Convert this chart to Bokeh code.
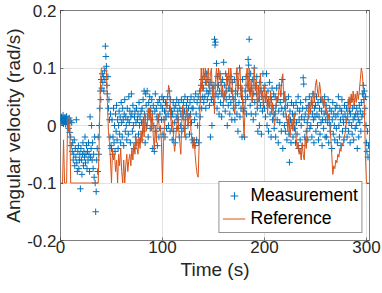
from bokeh.plotting import figure
from bokeh.models import (Range1d, FixedTicker, CustomJSTickFormatter, Legend,
                          LegendItem, LinearAxis)
from bokeh.embed import file_html
from bokeh.resources import INLINE

# ---- data ----
MEAS_DT = 0.5   # s between measurement samples
REF_DT = 1.0    # s between reference samples

measurement = [
    # t 0 - 9.5
    0.012, 0.008, 0.015, 0.005, 0.010, 0.018, 0.003, 0.012, 0.007, 0.014,
    0.002, 0.009, 0.016, 0.004, 0.011, 0.006, -0.005, 0.013, -0.012, 0.008,
    # t 10 - 19.5
    -0.02, -0.035, 0.005, -0.045, -0.03, -0.06, -0.05, -0.025, -0.07, -0.04,
    -0.055, 0.01, -0.065, -0.08, -0.045, -0.035, -0.075, -0.06, -0.05, -0.11,
    # t 20 - 29.5
    -0.04, -0.06, -0.085, -0.05, -0.03, -0.07, -0.045, -0.055, -0.02, -0.065,
    -0.05, -0.035, -0.075, -0.045, -0.06, -0.03, -0.05, -0.08, 0.015, -0.055,
    # t 30 - 39.5
    -0.04, 0.0, -0.06, -0.03, -0.075, -0.05, -0.09, -0.02, -0.1, -0.15,
    -0.115, -0.06, -0.04, -0.08, -0.02, -0.05, 0.0, 0.03, 0.06, 0.045,
    # t 40 - 49.5
    0.08, 0.065, 0.09, 0.075, 0.085, 0.06, 0.095, 0.08, 0.138, 0.12,
    0.103, 0.07, 0.055, 0.085, 0.03, 0.045, 0.01, -0.02, 0.02, -0.035,
    # t 50 - 59.5
    -0.04, 0.01, -0.05, -0.02, 0.03, -0.03, 0.0, -0.045, 0.02, -0.01,
    0.035, -0.025, 0.01, -0.04, 0.0, 0.025, -0.015, 0.015, -0.03, 0.04,
    # t 60 - 69.5
    0.005, -0.02, 0.03, 0.01, -0.035, 0.02, 0.045, -0.01, 0.015, 0.0,
    -0.025, 0.03, 0.01, -0.015, 0.05, 0.005, 0.025, -0.03, 0.015, 0.055,
    # t 70 - 79.5
    0.02, -0.01, 0.035, 0.0, -0.04, 0.015, 0.025, -0.02, 0.005, 0.03,
    -0.03, 0.01, 0.02, -0.015, 0.04, 0.0, 0.015, -0.025, 0.025, 0.005,
    # t 80 - 89.5
    0.03, -0.01, 0.045, 0.01, 0.06, 0.02, -0.03, 0.055, 0.035, 0.0,
    0.06, 0.015, -0.02, 0.04, 0.025, 0.05, -0.005, 0.03, 0.01, 0.045,
    # t 90 - 99.5
    0.02, -0.04, 0.035, 0.0, -0.045, 0.025, 0.055, -0.01, 0.03, 0.015,
    -0.035, 0.04, 0.01, -0.02, 0.045, 0.02, -0.005, 0.035, 0.01, 0.05,
    # t 100 - 109.5
    0.03, -0.015, 0.045, 0.01, 0.025, -0.02, 0.04, 0.015, -0.005, 0.035,
    0.05, 0.02, 0.0, 0.06, 0.03, -0.01, 0.045, 0.015, 0.025, -0.025,
    # t 110 - 119.5
    0.02, 0.04, -0.01, 0.03, 0.005, -0.03, 0.035, 0.015, 0.045, -0.005,
    0.025, 0.01, 0.04, -0.02, 0.03, 0.0, 0.02, 0.045, -0.01, 0.03,
    # t 120 - 129.5
    0.015, 0.04, -0.005, 0.025, 0.05, 0.01, -0.02, 0.035, 0.02, 0.045,
    0.0, 0.03, 0.015, -0.015, 0.04, 0.02, 0.05, 0.005, 0.03, -0.025,
    # t 130 - 139.5
    0.03, -0.03, 0.045, 0.01, -0.035, 0.055, 0.02, -0.025, 0.04, 0.0,
    0.05, -0.03, 0.03, 0.06, 0.015, 0.045, 0.07, 0.03, 0.08, 0.05,
    # t 140 - 149.5
    0.065, 0.04, 0.085, 0.05, 0.075, 0.03, 0.09, 0.06, 0.045, 0.08,
    0.055, 0.07, 0.035, 0.06, -0.02, 0.075, 0.045, 0.0, 0.065, 0.05,
    # t 150 - 159.5
    0.04, 0.07, 0.15, 0.14, 0.145, 0.055, 0.108, 0.03, 0.085, 0.05,
    0.07, 0.02, 0.06, 0.09, 0.04, 0.075, 0.015, 0.055, 0.08, 0.035,
    # t 160 - 169.5
    0.11, 0.05, 0.07, 0.025, 0.09, 0.045, 0.06, 0.0, 0.08, 0.035,
    0.065, 0.05, 0.02, 0.085, 0.04, 0.06, 0.01, 0.075, 0.05, 0.03,
    # t 170 - 179.5
    0.045, 0.08, 0.01, 0.06, 0.035, 0.09, 0.02, 0.055, -0.01, 0.07,
    0.04, 0.1, 0.015, 0.065, 0.03, 0.05, -0.02, 0.08, 0.04, 0.025,
    # t 180 - 189.5
    0.03, -0.02, 0.06, 0.045, 0.085, 0.02, 0.07, 0.05, 0.115, 0.105,
    0.15, 0.06, 0.035, 0.09, 0.02, 0.065, 0.045, 0.08, 0.01, 0.055,
    # t 190 - 199.5
    0.1, 0.04, 0.07, 0.02, 0.055, 0.085, 0.03, -0.01, 0.065, 0.045,
    0.0, 0.075, 0.035, 0.06, -0.015, 0.05, 0.025, 0.09, 0.04, 0.065,
    # t 200 - 209.5
    0.03, 0.07, 0.015, 0.05, 0.09, 0.0, 0.04, 0.06, -0.01, 0.035,
    0.075, 0.02, 0.05, -0.02, 0.045, 0.065, 0.01, 0.03, 0.055, -0.005,
    # t 210 - 219.5
    0.02, 0.05, -0.02, 0.035, 0.065, 0.01, 0.045, -0.03, 0.025, 0.07,
    0.005, 0.04, 0.055, -0.01, 0.03, 0.08, -0.04, 0.02, 0.045, 0.0,
    # t 220 - 229.5
    0.03, -0.01, 0.045, 0.015, -0.025, 0.035, 0.005, 0.05, -0.015, -0.064,
    0.025, 0.01, -0.03, 0.04, 0.0, 0.02, -0.02, 0.035, 0.01, -0.005,
    # t 230 - 239.5
    0.02, -0.03, 0.04, 0.005, -0.015, 0.03, 0.05, -0.04, 0.01, 0.025,
    -0.025, 0.04, 0.0, 0.015, -0.035, 0.03, 0.083, 0.072, 0.01, -0.02,
    # t 240 - 249.5
    0.02, 0.045, -0.01, 0.03, 0.005, -0.025, 0.035, 0.015, 0.05, -0.005,
    0.025, 0.0, 0.04, -0.02, 0.02, 0.055, 0.01, -0.03, 0.03, 0.015,
    # t 250 - 259.5
    0.035, -0.01, 0.05, 0.02, 0.0, 0.04, -0.025, 0.015, 0.03, -0.015,
    0.045, 0.005, 0.025, -0.035, 0.01, 0.04, -0.005, 0.02, 0.05, -0.02,
    # t 260 - 269.5
    0.01, 0.035, -0.02, 0.02, 0.005, 0.045, -0.03, 0.015, 0.03, -0.01,
    0.0, 0.025, -0.04, 0.01, 0.04, -0.015, 0.02, 0.0, -0.025, 0.03,
    # t 270 - 279.5
    0.015, -0.005, 0.035, -0.03, 0.02, 0.05, 0.0, -0.02, 0.03, 0.01,
    -0.035, 0.025, 0.045, -0.01, 0.015, 0.005, -0.025, 0.035, 0.02, -0.005,
    # t 280 - 289.5
    0.01, 0.03, -0.02, 0.015, 0.04, -0.01, 0.005, 0.025, -0.03, 0.02,
    0.045, 0.0, -0.015, 0.03, 0.01, -0.025, 0.035, 0.015, -0.005, 0.02,
    # t 290 - 299.5
    0.0, 0.03, -0.04, 0.02, 0.01, -0.02, 0.035, 0.005, 0.025, -0.01,
    0.04, 0.015, 0.055, 0.02, 0.07, 0.045, 0.06, 0.03, 0.05, 0.0,
    # t 300 - 302
    -0.03, -0.045, -0.01, -0.055, -0.035,
]

reference = [
    -0.1, -0.1, -0.1, -0.025, -0.1, -0.1, -0.1, 0.015, -0.01, 0.015,          # 0
    -0.1, -0.1, -0.1, -0.1, -0.1, -0.1, -0.1, -0.1, -0.1, -0.1,               # 10
    -0.1, -0.1, -0.1, -0.1, -0.1, -0.1, -0.1, -0.1, -0.1, -0.1,               # 20
    -0.1, -0.1, -0.1, -0.1, -0.1, -0.1, -0.1, -0.1, -0.02, 0.06,              # 30
    0.1, 0.1, 0.1, 0.1, 0.1, 0.095, 0.04, -0.01, -0.03, -0.06,                # 40
    -0.1, -0.04, -0.06, -0.05, -0.08, -0.06, -0.1, -0.05, -0.07, -0.04,       # 50
    -0.08, -0.1, -0.06, -0.1, -0.07, -0.05, -0.08, -0.06, -0.05, -0.07,       # 60
    -0.04, -0.06, -0.03, -0.05, -0.02, -0.04, -0.05, -0.02, -0.04, -0.01,     # 70
    -0.03, 0.01, -0.02, 0.02, -0.01, 0.0, 0.03, 0.01, 0.03, -0.01,            # 80
    0.02, -0.02, -0.04, 0.0, -0.03, 0.01, 0.02, -0.01, 0.0, -0.03,            # 90
    -0.1, -0.03, 0.0, 0.02, 0.04, 0.05, 0.07, 0.06, 0.02, -0.01,              # 100
    0.01, -0.03, -0.045, -0.02, 0.0, 0.02, -0.01, -0.03, -0.05, 0.01,         # 110
    0.035, 0.01, -0.02, 0.02, 0.03, 0.0, 0.015, 0.02, -0.01, -0.03,           # 120
    -0.04, -0.02, -0.05, -0.07, -0.085, -0.09, -0.03, 0.05, 0.1, 0.06,        # 130
    0.1, 0.08, 0.1, 0.07, 0.09, 0.1, 0.06, 0.09, 0.1, 0.05,                   # 140
    0.07, 0.02, 0.08, 0.1, 0.06, 0.1, 0.08, 0.09, 0.05, 0.07,                 # 150
    0.04, 0.06, 0.05, 0.09, 0.07, 0.1, 0.06, 0.1, 0.08, 0.05,                 # 160
    0.03, 0.02, 0.07, 0.1, 0.06, 0.09, 0.1, 0.05, 0.07, 0.02,                 # 170
    -0.02, 0.03, 0.08, 0.1, 0.06, 0.1, 0.05, 0.08, 0.04, 0.07,                # 180
    0.1, 0.06, 0.08, 0.03, 0.07, 0.04, 0.09, 0.05, 0.06, 0.03,                # 190
    0.07, 0.04, 0.06, 0.02, 0.05, 0.03, 0.06, 0.02, 0.04, 0.01,               # 200
    0.0, 0.03, 0.05, 0.04, 0.06, 0.07, 0.05, 0.08, 0.09, 0.04,                # 210
    0.06, 0.02, 0.01, -0.01, 0.02, -0.02, 0.0, 0.01, -0.01, 0.02,             # 220
    0.0, -0.02, -0.04, -0.03, -0.05, -0.04, -0.06, -0.03, -0.05, -0.06,       # 230
    -0.02, -0.04, 0.0, 0.02, 0.04, 0.02, 0.05, 0.03, 0.06, 0.04,              # 240
    0.07, 0.08, 0.06, 0.05, 0.075, 0.06, 0.04, 0.05, 0.03, 0.045,             # 250
    0.02, 0.03, 0.01, 0.02, 0.0, -0.02, -0.05, -0.085, -0.07, -0.075,         # 260
    -0.06, -0.065, -0.05, -0.055, -0.04, -0.045, -0.03, -0.035, -0.02, -0.015,  # 270
    0.0, 0.01, 0.03, 0.05, 0.03, 0.055, 0.04, 0.06, 0.035, 0.055,             # 280
    0.04, 0.06, 0.045, 0.06, 0.08, 0.1, 0.09, 0.06, 0.03, -0.05,              # 290
    -0.1, -0.1, -0.1,                                                          # 300
]

x_ticks = [0, 100, 200, 300]
y_ticks = [-0.2, -0.1, 0, 0.1, 0.2]
series_names = ["Measurement", "Reference"]

t_meas = [i * MEAS_DT for i in range(len(measurement))]
t_ref = [i * REF_DT for i in range(len(reference))]

FONT = "Liberation Sans"
TXT = "#262626"
BLUE = "#0072BD"
ORANGE = "#D95319"

p = figure(width=382, height=284, output_backend="svg", toolbar_location=None,
           x_range=Range1d(0, 303), y_range=Range1d(-0.2, 0.2),
           min_border_left=55, min_border_right=13, min_border_top=10,
           min_border_bottom=44)

p.outline_line_color = TXT
p.outline_line_width = 0.6
p.background_fill_color = "white"
p.border_fill_color = "white"

r_meas = p.scatter(t_meas, measurement, marker="cross", size=6.5,
                   line_color=BLUE, line_width=1)
r_ref = p.line(t_ref, reference, line_color=ORANGE, line_width=1)

p.xaxis.ticker = FixedTicker(ticks=x_ticks)
p.yaxis.ticker = FixedTicker(ticks=y_ticks)
p.xaxis.formatter = CustomJSTickFormatter(code="return String(Math.round(tick));")
p.yaxis.formatter = CustomJSTickFormatter(
    code="return Math.abs(tick) < 1e-9 ? '0' : tick.toFixed(1);")

for ax in (p.xaxis, p.yaxis):
    ax.axis_line_color = None
    ax.major_tick_in = 3
    ax.major_tick_out = 0
    ax.major_tick_line_color = TXT
    ax.major_tick_line_width = 0.6
    ax.minor_tick_line_color = None
    ax.major_label_text_font = FONT
    ax.major_label_text_font_size = "17px"
    ax.major_label_text_color = TXT
    ax.axis_label_text_font = FONT
    ax.axis_label_text_font_size = "19px"
    ax.axis_label_text_font_style = "normal"
    ax.axis_label_text_color = TXT

p.xaxis.axis_label = "Time (s)"
p.yaxis.axis_label = "Angular velocity (rad/s)"
p.xaxis.major_label_standoff = 0
p.xaxis.axis_label_standoff = 3
p.yaxis.major_label_standoff = 4
p.yaxis.axis_label_standoff = 0

# tick marks on the top and right edges of the box (no labels)
for ticks, side in ((x_ticks, "above"), (y_ticks, "right")):
    box_axis = LinearAxis(ticker=FixedTicker(ticks=ticks),
                          formatter=CustomJSTickFormatter(code="return '';"),
                          axis_line_color=None, major_tick_in=3, major_tick_out=0,
                          major_tick_line_color=TXT, major_tick_line_width=0.6,
                          minor_tick_line_color=None, major_label_standoff=0,
                          major_label_text_font_size="0px")
    p.add_layout(box_axis, side)

p.grid.grid_line_color = "#e3e3e3"
p.grid.grid_line_width = 1

legend = Legend(items=[LegendItem(label=series_names[0], renderers=[r_meas]),
                       LegendItem(label=series_names[1], renderers=[r_ref])],
                location="bottom_right")
legend.margin = 7
legend.padding = 3
legend.spacing = 2
legend.glyph_width = 23
legend.glyph_height = 19
legend.label_height = 19
legend.label_standoff = 5
legend.label_text_font = FONT
legend.label_text_font_size = "17.6px"
legend.label_text_color = "black"
legend.border_line_color = TXT
legend.border_line_width = 0.6
legend.background_fill_color = "white"
legend.background_fill_alpha = 1
p.add_layout(legend, "center")

open("out.html", "w").write(file_html(p, INLINE))
